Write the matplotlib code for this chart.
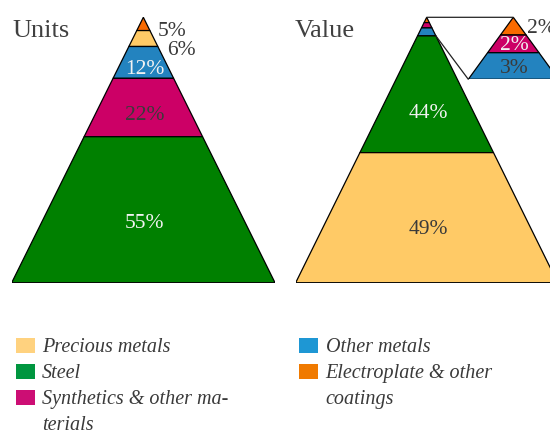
import matplotlib
matplotlib.use("Agg")
import matplotlib.pyplot as plt
from matplotlib.patches import Polygon, Rectangle, ConnectionPatch

W, H, DPI = 550, 434, 100

# ---- data -------------------------------------------------------------
categories = ["Precious metals", "Steel", "Synthetics & other materials",
              "Other metals", "Electroplate & other coatings"]

# stacking order, top of the pyramid first
units_order = ["Electroplate & other coatings", "Precious metals",
               "Other metals", "Synthetics & other materials", "Steel"]
units_values = [5, 6, 12, 22, 55]

value_order = ["Electroplate & other coatings", "Synthetics & other materials",
               "Other metals", "Steel", "Precious metals"]
value_values = [2, 2, 3, 44, 49]

legend_lines = {
    "Precious metals": ["Precious metals"],
    "Steel": ["Steel"],
    "Synthetics & other materials": ["Synthetics & other ma-", "terials"],
    "Other metals": ["Other metals"],
    "Electroplate & other coatings": ["Electroplate & other", "coatings"],
}

# ---- style ------------------------------------------------------------
fill = {
    "Precious metals": "#FFCA66",
    "Steel": "#008000",
    "Synthetics & other materials": "#CC0066",
    "Other metals": "#2383BF",
    "Electroplate & other coatings": "#F96A00",
}
swatch = {
    "Precious metals": "#FFD27F",
    "Steel": "#00963F",
    "Synthetics & other materials": "#CC0E74",
    "Other metals": "#1E97D4",
    "Electroplate & other coatings": "#F07A00",
}
DARK, LIGHT = "#3a3a3a", "#f2f2f2"
plt.rcParams["font.family"] = ["Liberation Serif", "DejaVu Serif"]
LABEL_FS = 15.5

fig = plt.figure(figsize=(W / DPI, H / DPI), dpi=DPI)


def px_axes(x0, y0, x1, y1):
    """Axes placed by pixel box (top-left origin)."""
    return fig.add_axes([x0 / W, 1 - y1 / H, (x1 - x0) / W, (y1 - y0) / H])


def half_width(y):
    return (100 - y) / 100.0


def segments(values):
    out, top = [], 100.0
    for v in values:
        out.append((top, top - v))
        top -= v
    return out


def draw_pyramid(ax, order, values, only=None):
    segs = segments(values)
    n = len(values) if only is None else only
    for i in range(n):
        t, b = segs[i]
        pts = [(-half_width(t), t), (half_width(t), t),
               (half_width(b), b), (-half_width(b), b)]
        ax.add_patch(Polygon(pts, closed=True, facecolor=fill[order[i]],
                             edgecolor="black", lw=0.9, joinstyle="miter"))
    return segs


def centroid_y(t, b):
    a, c = 2 * half_width(t), 2 * half_width(b)
    return t - (t - b) * (a + 2 * c) / (3 * (a + c))


def scale(ax):
    """pixels per data unit along x and y"""
    x0, x1 = ax.get_xlim()
    y0, y1 = ax.get_ylim()
    return ax.bbox.width / (x1 - x0), ax.bbox.height / (y1 - y0)


# ---- Units pyramid ----------------------------------------------------
ax_u = px_axes(11.7, 17.3, 275.0, 282.7)
ax_u.set_xlim(-1, 1)
ax_u.set_ylim(0, 100)
ax_u.axis("off")
segs_u = draw_pyramid(ax_u, units_order, units_values)

units_inside = [False, False, True, True, True]
units_color = [DARK, DARK, LIGHT, DARK, LIGHT]
sx_u, sy_u = scale(ax_u)
prev = None
for i, (t, b) in enumerate(segs_u):
    cy = centroid_y(t, b)
    txt = f"{units_values[i]}%"
    base = cy - 9.4 / sy_u
    if units_inside[i]:
        ax_u.text(0.01, base, txt, ha="center", va="baseline",
                  fontsize=LABEL_FS, color=units_color[i])
    else:
        if prev is not None:
            base = min(base, prev - 19.0 / sy_u)
        prev = base
        mid = base + 7.5 / sy_u
        lx = half_width(mid) + 9.5 / sx_u
        ax_u.text(lx, base, txt, ha="left", va="baseline", fontsize=LABEL_FS,
                  color=units_color[i], clip_on=False)

# ---- Value pyramid ----------------------------------------------------
ax_v = px_axes(295.7, 17.3, 557.7, 282.7)
ax_v.set_xlim(-1, 1)
ax_v.set_ylim(0, 100)
ax_v.axis("off")
segs_v = draw_pyramid(ax_v, value_order, value_values)

n_inset = 3
value_color = [None, None, None, LIGHT, DARK]
sx_v, sy_v = scale(ax_v)
for i, (t, b) in enumerate(segs_v):
    if i < n_inset:
        continue
    cy = centroid_y(t, b)
    ax_v.text(0.01, cy - 9.4 / sy_v, f"{value_values[i]}%", ha="center",
              va="baseline", fontsize=LABEL_FS, color=value_color[i])

# magnified tip of the Value pyramid
inset_floor = 100 - sum(value_values[:n_inset])
ax_i = px_axes(468.3, 17.3, 558.3, 79.3)
ax_i.set_xlim(-half_width(inset_floor), half_width(inset_floor))
ax_i.set_ylim(inset_floor, 100)
ax_i.axis("off")
draw_pyramid(ax_i, value_order, value_values, only=n_inset)

inset_inside = [False, True, True]
inset_color = [DARK, LIGHT, DARK]
sx_i, sy_i = scale(ax_i)
for i in range(n_inset):
    t, b = segs_v[i]
    my = (t + b) / 2
    base = my - 6.5 / sy_i
    txt = f"{value_values[i]}%"
    if inset_inside[i]:
        ax_i.text(1 / sx_i, base, txt, ha="center", va="baseline",
                  fontsize=LABEL_FS, color=inset_color[i])
    else:
        ax_i.text(half_width(my) + 7 / sx_i, base, txt, ha="left",
                  va="baseline", fontsize=LABEL_FS, color=inset_color[i],
                  clip_on=False)

for (xa, ya), (xb, yb) in [((0, 100), (0, 100)),
                           ((half_width(inset_floor), inset_floor),
                            (-half_width(inset_floor), inset_floor))]:
    fig.add_artist(ConnectionPatch((xa, ya), (xb, yb), coordsA=ax_v.transData,
                                   coordsB=ax_i.transData, color="#222222",
                                   lw=0.9))

# ---- titles -----------------------------------------------------------
fig.text(12 / W, 1 - 37.3 / H, "Units", fontsize=19, color="#404040",
         ha="left", va="baseline")
fig.text(295 / W, 1 - 37.3 / H, "Value", fontsize=19, color="#404040",
         ha="left", va="baseline")

# ---- legend -----------------------------------------------------------
columns = [(["Precious metals", "Steel", "Synthetics & other materials"], 16.0, 41.7),
           (["Other metals", "Electroplate & other coatings"], 299.3, 325.7)]
ROW = 26.0
for names, sx, tx in columns:
    line = 0
    for name in names:
        top = 338.3 + ROW * line
        fig.add_artist(Rectangle((sx / W, 1 - (top + 14.7) / H), 19 / W, 14.7 / H,
                                 transform=fig.transFigure,
                                 facecolor=swatch[name], edgecolor="none"))
        for text_line in legend_lines[name]:
            fig.text(tx / W, 1 - (352.3 + ROW * line) / H, text_line,
                     fontsize=14.5, style="italic", color="#3a3a3a",
                     ha="left", va="baseline")
            line += 1

fig.savefig("out.png", dpi=DPI)
